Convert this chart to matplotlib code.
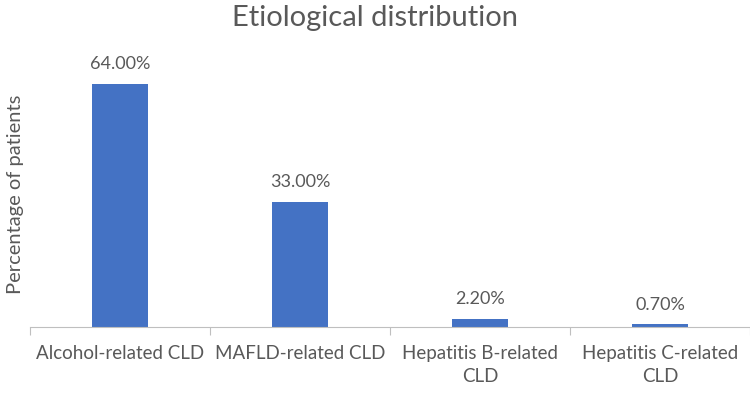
import matplotlib.pyplot as plt

categories = ['Alcohol-related CLD', 'MAFLD-related CLD', 'Hepatitis B-related\nCLD', 'Hepatitis C-related\nCLD']
values = [64.0, 33.0, 2.2, 0.7]

plt.rcParams['font.family'] = ['Lato', 'DejaVu Sans']
txt = '#595959'

fig = plt.figure(figsize=(7.5, 3.93), dpi=100)
ax = fig.add_axes([0.04, 0.168, 0.96, 0.677])

x = range(len(categories))
ax.bar(x, values, width=0.31, color='#4472C4')
for i, v in zip(x, values):
    ax.text(i, v + 3, '%.2f%%' % v, ha='center', va='bottom', fontsize=13, color=txt)

ax.set_xlim(-0.5, 3.5)
ax.set_ylim(0, 70)
ax.set_yticks([])
# category separators as major ticks, names as minor ticks
ax.set_xticks([-0.5, 0.5, 1.5, 2.5, 3.5], minor=False)
ax.set_xticklabels([])
ax.tick_params(axis='x', which='major', length=6, color='#BFBFBF')
ax.set_xticks(list(x), minor=True)
ax.set_xticklabels(categories, minor=True, fontsize=13.5, color=txt, linespacing=1.45)
ax.tick_params(axis='x', which='minor', length=0, pad=13)
for s in ['top', 'right', 'left']:
    ax.spines[s].set_visible(False)
ax.spines['bottom'].set_color('#BFBFBF')

ax.set_ylabel('Percentage of patients', fontsize=14.5, color=txt, labelpad=4)
fig.suptitle('Etiological distribution', fontsize=21, color=txt, y=0.988)

fig.savefig('out.png')
